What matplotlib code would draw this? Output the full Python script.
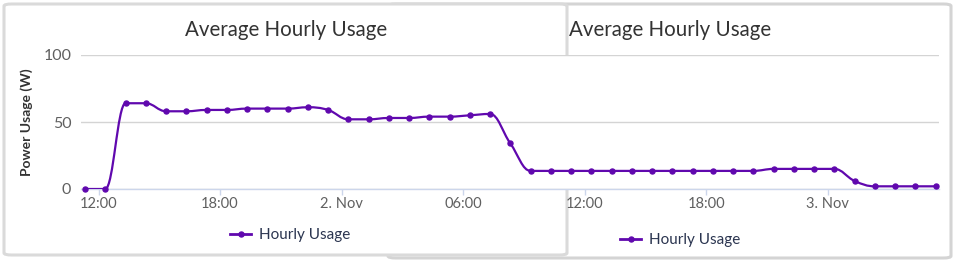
import numpy as np
import pandas as pd
import matplotlib
matplotlib.use('Agg')
import matplotlib.pyplot as plt
import matplotlib.dates as mdates
from matplotlib.path import Path
from matplotlib.patches import PathPatch, FancyBboxPatch
from matplotlib.lines import Line2D

plt.rcParams['font.family'] = ['Lato', 'DejaVu Sans']

# hourly readings, first one at 11:20 on 1 Nov
start = '2019-11-01 11:20'
usage = [0, 0, 64, 64, 58, 58, 59, 59, 60, 60, 60, 61, 59, 52, 52, 53, 53, 54, 54, 55,
         56, 34, 13.5, 13.5, 13.5, 13.5, 13.5, 13.5, 13.5, 13.5, 13.5, 13.5, 13.5, 13.5,
         15, 15, 15, 15, 6, 2, 2, 2, 2]
tick_times = ['2019-11-01 12:00', '2019-11-01 18:00', '2019-11-02 00:00', '2019-11-02 06:00',
              '2019-11-02 12:00', '2019-11-02 18:00', '2019-11-03 00:00']
tick_labels = ['12:00', '18:00', '2. Nov', '06:00', '12:00', '18:00', '3. Nov']
title = 'Average Hourly Usage'
series_name = 'Hourly Usage'

purple = '#6008ae'
times = pd.date_range(start, periods=len(usage), freq='h')
x = mdates.date2num(times.to_pydatetime())
y = np.array(usage, dtype=float)


def spline_path(x, y, smoothing=1.5):
    # highcharts style spline: bezier control points from the neighbours
    n = len(x)
    lc = [None] * n
    rc = [None] * n
    d = smoothing + 1
    for i in range(1, n - 1):
        lx = (smoothing * x[i] + x[i - 1]) / d
        ly = (smoothing * y[i] + y[i - 1]) / d
        rx = (smoothing * x[i] + x[i + 1]) / d
        ry = (smoothing * y[i] + y[i + 1]) / d
        if rx != lx:
            corr = (ry - ly) * (rx - x[i]) / (rx - lx) + y[i] - ry
            ly += corr
            ry += corr
        if ly > y[i - 1] and ly > y[i]:
            ly = max(y[i - 1], y[i]); ry = 2 * y[i] - ly
        elif ly < y[i - 1] and ly < y[i]:
            ly = min(y[i - 1], y[i]); ry = 2 * y[i] - ly
        if ry > y[i + 1] and ry > y[i]:
            ry = max(y[i + 1], y[i]); ly = 2 * y[i] - ry
        elif ry < y[i + 1] and ry < y[i]:
            ry = min(y[i + 1], y[i]); ly = 2 * y[i] - ry
        lc[i] = (lx, ly)
        rc[i] = (rx, ry)
    verts = [(x[0], y[0])]
    codes = [Path.MOVETO]
    for i in range(n - 1):
        c1 = rc[i] if rc[i] is not None else (x[i], y[i])
        c2 = lc[i + 1] if lc[i + 1] is not None else (x[i + 1], y[i + 1])
        verts += [c1, c2, (x[i + 1], y[i + 1])]
        codes += [Path.CURVE4] * 3
    return Path(verts, codes)


W, H = 957, 261
fig = plt.figure(figsize=(W / 100, H / 100), dpi=100)
fig.patch.set_facecolor('white')


def card(x0, y0, x1, y1, z, ec='#d4d4d4'):
    # card rectangle given in pixels from the top left
    p = FancyBboxPatch((x0 / W, 1 - y1 / H), (x1 - x0) / W, (y1 - y0) / H,
                       boxstyle='round,pad=0,rounding_size=0.008',
                       transform=fig.transFigure, facecolor='white',
                       edgecolor=ec, linewidth=2.2, zorder=z)
    fig.patches.append(p)


card(388, 4, 951, 258, 0)
card(4, 4, 567, 255, 1, ec='#dadada')

ax = fig.add_axes([81 / W, 72 / H, 858 / W, 134 / H])
ax.set_facecolor('white')
ax.set_zorder(5)

ax.add_patch(PathPatch(spline_path(x, y), facecolor='none', edgecolor=purple,
                       linewidth=1.6, zorder=3, capstyle='round', joinstyle='round'))
ax.plot(x, y, linestyle='none', marker='o', markersize=3.6, color=purple,
        zorder=4, clip_on=False)

x_left = mdates.date2num(pd.Timestamp('2019-11-01 11:08').to_pydatetime())
x_right = mdates.date2num(pd.Timestamp('2019-11-03 05:30').to_pydatetime())
ax.set_xlim(x_left, x_right)
ax.set_ylim(0, 100)

ax.set_xticks(mdates.date2num(pd.to_datetime(tick_times).to_pydatetime()))
ax.set_xticklabels(tick_labels)
ax.set_yticks([0, 50, 100])
ax.set_yticklabels(['0', '50', '100'])

for s in ['top', 'right', 'left']:
    ax.spines[s].set_visible(False)
ax.spines['bottom'].set_color('#ccd6eb')
ax.spines['bottom'].set_linewidth(1)
ax.spines['bottom'].set_zorder(2)
ax.grid(axis='y', color='#d4d4d4', linewidth=1)
ax.set_axisbelow(True)
ax.tick_params(axis='x', length=4, width=1, color='#ccd6eb', pad=2,
               labelsize=10.5, labelcolor='#606060')
ax.tick_params(axis='y', length=0, pad=7, labelsize=11.5, labelcolor='#606060')

fig.text(286 / W, 1 - 30 / H, title, ha='center', va='center',
         fontsize=14.8, color='#333333', zorder=6)
fig.text(670 / W, 1 - 30 / H, title, ha='center', va='center',
         fontsize=14.8, color='#333333', zorder=6)
fig.text(27 / W, 1 - 122 / H, 'Power Usage (W)', rotation=90, ha='center',
         va='center', fontsize=10, fontweight='bold', color='#333333', zorder=6)

handle = Line2D([], [], color=purple, linewidth=2, marker='o', markersize=3.6)
leg1 = fig.legend([handle], [series_name], loc='center',
                  bbox_to_anchor=(290 / W, 1 - 235 / H), frameon=False,
                  fontsize=11, handlelength=1.4, handletextpad=0.5,
                  labelcolor='#2b3550')
leg2 = fig.legend([handle], [series_name], loc='center',
                  bbox_to_anchor=(680 / W, 1 - 240 / H), frameon=False,
                  fontsize=11, handlelength=1.4, handletextpad=0.5,
                  labelcolor='#2b3550')

fig.savefig('out.png', dpi=100, facecolor='white')
